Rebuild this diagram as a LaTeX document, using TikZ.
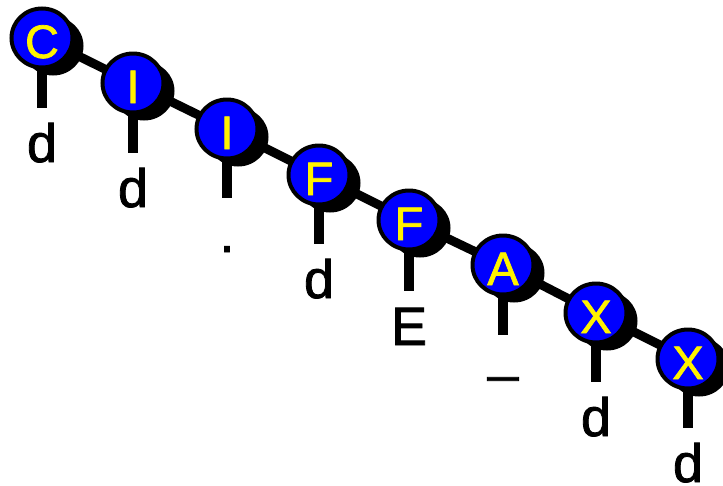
\documentclass[tikz,border=0pt]{standalone}
\usepackage{fontspec}
\setmainfont{Liberation Sans}[RawFeature={embolden=1.5}]
\usetikzlibrary{shapes.geometric, shadows, backgrounds}

\begin{document}
\begin{tikzpicture}[x=1pt, y=-1pt,
    res/.style={ellipse, draw=black, fill=blue, line width=4pt, inner sep=0pt,
                minimum width=61pt, minimum height=59pt, text=yellow,
                font=\fontsize{47}{47}\selectfont, text height=40pt, text depth=0pt,
                drop shadow={shadow xshift=11pt, shadow yshift=-8pt, fill=black, opacity=1}},
    tag/.style={anchor=base, inner sep=0pt, text height=40pt, text depth=0pt,
                font=\fontsize{54}{54}\selectfont},
    chain/.style={line width=9pt},
    stub/.style={line width=9.5pt, shorten >=14pt}
  ]
  \useasboundingbox (0,0) rectangle (723,485);
  % residues
  \node[res] (c1) at (42,38) {C};
  \node[res] (c2) at (133,83) {I};
  \node[res] (c3) at (227,129) {I};
  \node[res] (c4) at (319,175) {F};
  \node[res] (c5) at (409,220) {F};
  \node[res] (c6) at (503,265) {A};
  \node[res] (c7) at (596,313) {X};
  \node[res] (c8) at (688,359) {X};
  % tags below
  \node[tag] (t1) at (42,162) {d};
  \node[tag] (t2) at (133,207) {d};
  \node[tag] (t3) at (227,252) {.};
  \node[tag] (t4) at (319,298) {d};
  \node[tag] (t5) at (409,345) {E};
  \node[tag] (t6) at (503,389) {\raisebox{19pt}{\_}};
  \node[tag] (t7) at (596,436) {d};
  \node[tag] (t8) at (688,482) {d};
  \begin{scope}[on background layer]
    \draw[chain] (c1.center) -- (c2.center) -- (c3.center) -- (c4.center)
      -- (c5.center) -- (c6.center) -- (c7.center) -- (c8.center);
    \draw[stub] (c1.center) -- (t1.north);
    \draw[stub] (c2.center) -- (t2.north);
    \draw[stub] (c3.center) -- (t3.north);
    \draw[stub] (c4.center) -- (t4.north);
    \draw[stub] (c5.center) -- (t5.north);
    \draw[stub] (c6.center) -- (t6.north);
    \draw[stub] (c7.center) -- (t7.north);
    \draw[stub] (c8.center) -- (t8.north);
  \end{scope}
\end{tikzpicture}
\end{document}
